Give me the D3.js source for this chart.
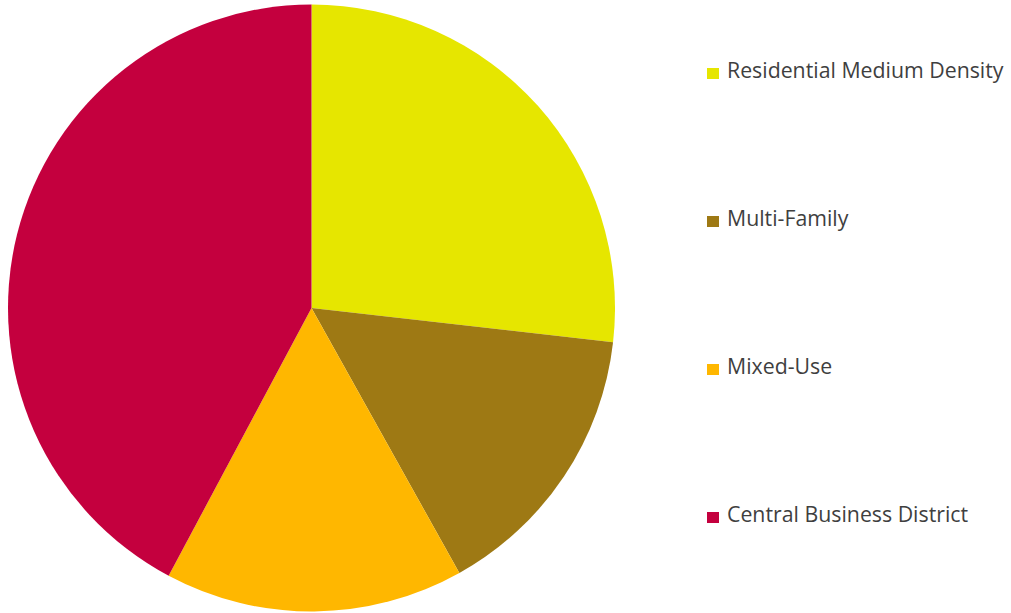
<!DOCTYPE html>
<html>
<head>
<meta charset="utf-8">
<script src="https://cdn.jsdelivr.net/npm/d3@7"></script>
<style>
  body { margin: 0; background: #fff; }
</style>
</head>
<body>
<div id="chart-area"></div>
<script>
// zoning shares
var categories = ["Residential Medium Density", "Multi-Family", "Mixed-Use", "Central Business District"];
var shares = [26.8, 15.1, 15.9, 42.2];
var colors = ["#e6e600", "#9e7914", "#ffb700", "#c4003e"];

var width = 1011, height = 613;

var svg = d3.select("#chart-area")
    .append("svg")
        .attr("width", width)
        .attr("height", height);

var data = categories.map(function(c, i) {
    return { name: c, value: shares[i], color: colors[i] };
});

var pie = d3.pie()
    .sort(null)
    .value(function(d) { return d.value; });

var arc = d3.arc()
    .innerRadius(0)
    .outerRadius(303.5);

var g = svg.append("g")
    .attr("transform", "translate(311.5,308)");

g.selectAll("path")
        .data(pie(data))
    .enter()
        .append("path")
        .attr("d", arc)
        .attr("fill", function(d) { return d.data.color; });

// legend, spread down the right side (y = text baseline)
var ly = d3.scalePoint()
    .domain(categories)
    .range([78, 522]);

var legend = svg.selectAll(".legend")
        .data(data)
    .enter()
        .append("g")
        .attr("class", "legend")
        .attr("transform", function(d) { return "translate(707," + ly(d.name) + ")"; });

legend.append("rect")
    .attr("x", 0)
    .attr("y", -10)
    .attr("width", 12)
    .attr("height", 11)
    .attr("fill", function(d) { return d.color; });

legend.append("text")
    .attr("x", 20)
    .attr("y", 0)
    .style("font-family", "'Open Sans', sans-serif")
    .style("font-size", "21.3px")
    .attr("fill", "#3f3f3f")
    .text(function(d) { return d.name; });
</script>
</body>
</html>
